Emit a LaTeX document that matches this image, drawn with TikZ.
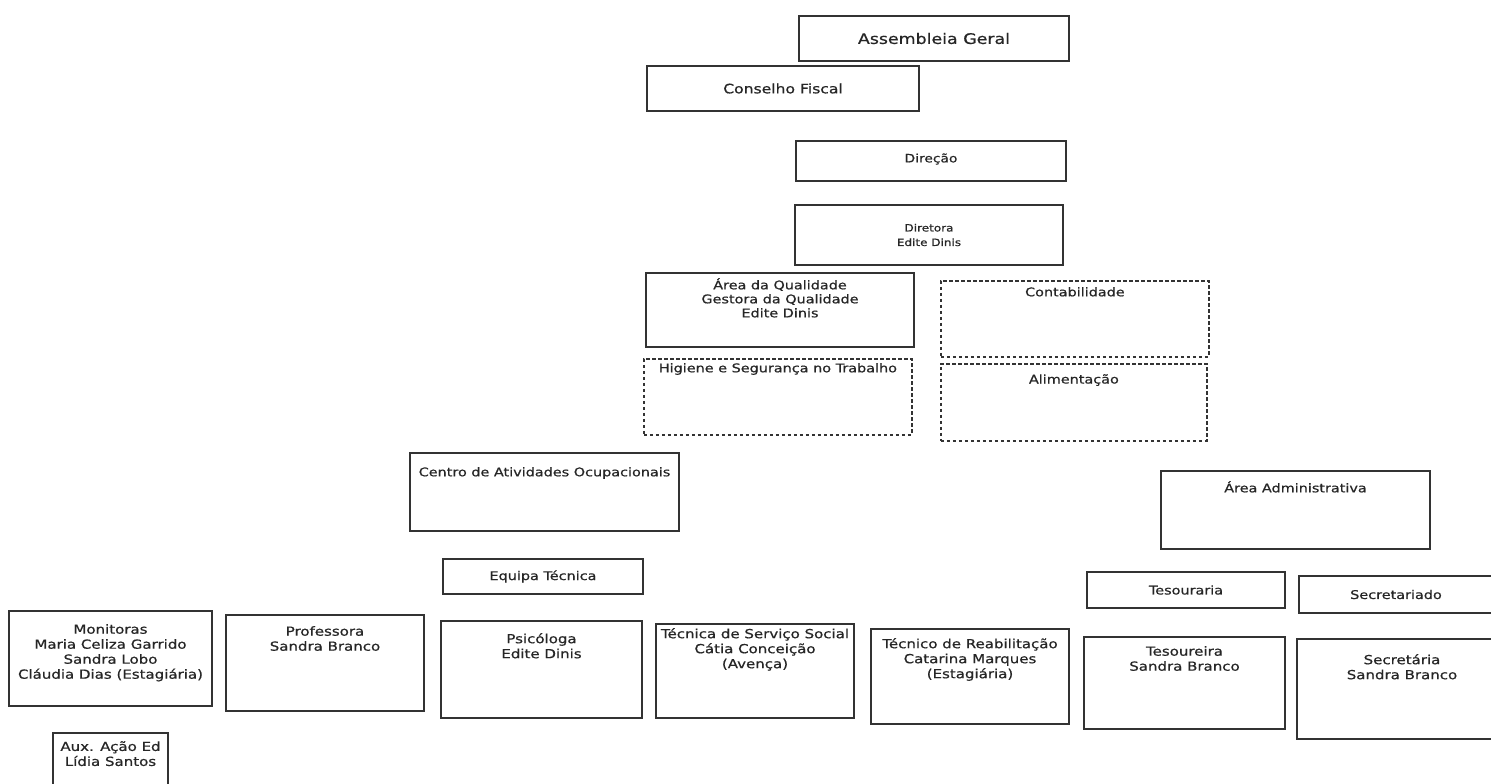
\documentclass[tikz,border=0pt]{standalone}
\usepackage{fontspec}
\setmainfont[FakeStretch=1.2, FakeBold=0.6]{DejaVu Sans}
\usetikzlibrary{positioning}

\begin{document}
\begin{tikzpicture}[x=1pt, y=-1pt,
    caixa/.style={draw=black!80, line width=2pt, anchor=north west, inner sep=0pt},
    tracejada/.style={caixa, line width=1.8pt, dash pattern=on 3.5pt off 2.5pt},
    texto/.style={align=center, inner sep=0pt, text=black!85, font=\fontsize{12}{14}\selectfont},
    textob/.style={texto, font=\fontsize{12.5}{15}\selectfont}]
\useasboundingbox[fill=white] (0,0) rectangle (1491,784);
% Topo: orgaos sociais e direcao
\node[caixa, minimum width=270, minimum height=45] (ag) at (798,15) {};
\node[texto, font=\fontsize{14.5}{17}\selectfont] (ag-t) at (ag.center) {Assembleia Geral};
\node[caixa, minimum width=272, minimum height=45] (cf) at (646,65) {};
\node[texto, font=\fontsize{13}{15}\selectfont] (cf-t) at (cf.center) {Conselho Fiscal};
\node[caixa, minimum width=270, minimum height=40] (dir) at (795,140) {};
\node[texto, font=\fontsize{11.5}{13}\selectfont] (dir-t) at ([yshift=2pt]dir.center) {Direção};
\node[caixa, minimum width=268, minimum height=60] (dta) at (794,204) {};
\node[texto, font=\fontsize{10}{14.5}\selectfont] (dta-t) at (dta.center) {Diretora\\Edite Dinis};
% Qualidade e servicos de apoio
\node[caixa, minimum width=268, minimum height=74] (aq) at (645,272) {};
\node[texto] (aq-t) [below=6pt of aq.north] {Área da Qualidade\\Gestora da Qualidade\\Edite Dinis};
\node[tracejada, minimum width=268, minimum height=76] (cont) at (940,280) {};
\node[texto] (cont-t) [below=7pt of cont.north] {Contabilidade};
\node[tracejada, minimum width=268, minimum height=76] (hst) at (643,358) {};
\node[texto] (hst-t) [below=5pt of hst.north] {Higiene e Segurança no Trabalho};
\node[tracejada, minimum width=266, minimum height=77] (alim) at (940,363) {};
\node[texto] (alim-t) [below=11pt of alim.north] {Alimentação};
% Centro de Atividades Ocupacionais
\node[caixa, minimum width=269, minimum height=78] (cao) at (409,452) {};
\node[texto] (cao-t) [below=15pt of cao.north] {Centro de Atividades Ocupacionais};
\node[caixa, minimum width=200, minimum height=35] (eqt) at (442,558) {};
\node[texto] (eqt-t) at (eqt.center) {Equipa Técnica};
% Area Administrativa
\node[caixa, minimum width=269, minimum height=78] (aadm) at (1160,470) {};
\node[texto] (aadm-t) [below=11pt of aadm.north] {Área Administrativa};
\node[caixa, minimum width=198, minimum height=36] (tes) at (1086,571) {};
\node[texto] (tes-t) at (tes.center) {Tesouraria};
\node[caixa, minimum width=210, minimum height=37] (sec) at (1298,575) {};
\node[texto] (sec-t) at ([xshift=-8pt]sec.center) {Secretariado};
% Linha de baixo
\foreach \nome/\xa/\ya/\w/\h/\d/\txt in {
    mon/8/610/203/95/14/{Monitoras\\Maria Celiza Garrido\\Sandra Lobo\\Cláudia Dias (Estagiária)},
    prof/225/614/198/96/12/{Professora\\Sandra Branco},
    psi/440/620/201/97/13/{Psicóloga\\Edite Dinis},
    tss/655/623/198/94/5/{Técnica de Serviço Social\\Cátia Conceição\\(Avença)},
    trab/870/628/198/95/10/{Técnico de Reabilitação\\Catarina Marques\\(Estagiária)},
    tesa/1083/636/201/92/10/{Tesoureira\\Sandra Branco},
    seca/1296/638/210/100/16/{Secretária\\Sandra Branco},
    aux/52/732/115/60/9/{Aux. Ação Ed\\Lídia Santos}}
{
    \node[caixa, minimum width=\w, minimum height=\h] (\nome) at (\xa,\ya) {};
    \node[textob] (\nome-t) [below=\d pt of \nome.north] {\txt};
}
\end{tikzpicture}
\end{document}
